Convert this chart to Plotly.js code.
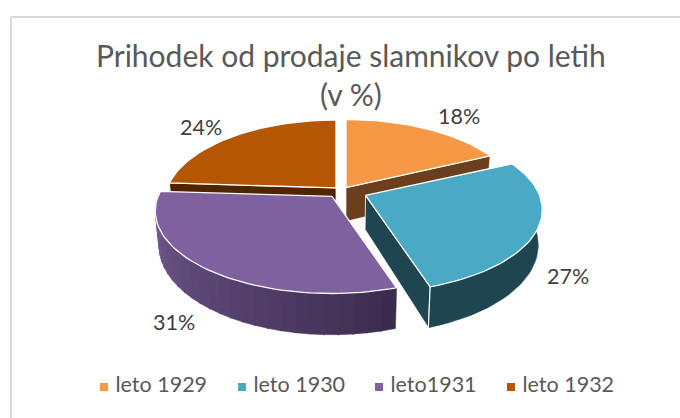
<!DOCTYPE html>
<html><head><meta charset="utf-8">
<script src="https://cdn.plot.ly/plotly-3.0.1.min.js"></script>
<style>html,body{margin:0;padding:0;background:#fff}</style></head>
<body><div id="chart" style="width:680px;height:418px"></div>
<script>
(function(){
const categories = ['leto 1929','leto 1930','leto1931','leto 1932'];
const values = [18,27,31,24];
const colors = ['#F69845','#4AA9C4','#7E619E','#B55604'];
const radialWall = ['#6B3E1D',null,null,'#4F2500'];
const pulls = [0.047,0.15,0.09,0.047];
const widthScale = [0.985,1,1,0.97];
const labelPos = [[458.5,116],[568,276],[173.5,322],[201,127]];
const legendX = [104,242,379,511];

const cx=341.6, cy=190.7, R=174, H=80, K=0.176, T=34, SHR=0.98;
const rad=d=>d*Math.PI/180;
const total=values.reduce((a,b)=>a+b,0);
let acc=0;
const slices=values.map((v,i)=>{const a=acc/total*360;acc+=v;const b=acc/total*360;const m=rad((a+b)/2);
  return {i,a,b,du:pulls[i]*Math.sin(m),dv:-pulls[i]*Math.cos(m)};});
function P(sl,deg,r,low){
  const ru=r*Math.sin(rad(deg))*widthScale[sl.i], rv=-r*Math.cos(rad(deg));
  const s=1/(1-K*rv);
  let X=R*(sl.du+ru*s), Y=cy+H*(sl.dv+rv*s);
  if(low){X*=SHR;Y+=T*s;}
  return [cx+X,Y];
}
function poly(pts,fill,lineColor,lw){
  return {type:'scatter',mode:'lines',x:pts.map(p=>p[0]),y:pts.map(p=>p[1]),fill:'toself',fillcolor:fill,
    line:{color:lineColor||fill,width:lw==null?1:lw},hoverinfo:'skip',showlegend:false};
}
function arc(sl,a,b,low){const n=Math.max(2,Math.ceil(Math.abs(b-a)/2));const o=[];for(let k=0;k<=n;k++)o.push(P(sl,a+(b-a)*k/n,1,low));return o;}
function radialQuad(sl,deg,c){return poly([P(sl,0,0,false),P(sl,deg,1,false),P(sl,deg,1,true),P(sl,0,0,true),P(sl,0,0,false)],c,'#ffffff',0.8);}
function topFace(sl){return poly([P(sl,0,0,false),...arc(sl,sl.a,sl.b,false),P(sl,0,0,false)],colors[sl.i],'#ffffff',1.3);}
function mix(c1,c2,t){return 'rgb('+c1.map((c,i)=>Math.round(c+(c2[i]-c)*t)).join(',')+')';}

const traces=[];
const [o,te,pu,br]=slices;
traces.push(radialQuad(br,br.a,radialWall[3]));
traces.push(radialQuad(o,o.b,radialWall[0]));
traces.push(topFace(br));traces.push(topFace(o));
const pA=[60,43,77],pB=[117,92,150];
const pEnd=272,step=4;
for(let d=pu.a;d<pEnd;d+=step){
  const e=Math.min(d+step+0.5,pEnd);
  const pts=[...arc(pu,d,e,false),...arc(pu,e,d,true)];pts.push(pts[0]);
  const t=Math.pow((d-pu.a)/(pEnd-pu.a),0.9);
  traces.push(poly(pts,mix(pA,pB,t),mix(pA,pB,t),0.5));
}
traces.push(topFace(pu));
traces.push(radialQuad(te,te.b,'#1F4650'));
{const pts=[...arc(te,te.b,78,false),...arc(te,78,te.b,true)];pts.push(pts[0]);traces.push(poly(pts,'#1F4650','#1F4650',0.5));
 traces.push({type:'scatter',mode:'lines',x:[P(te,te.b,1,false)[0],P(te,te.b,1,true)[0]],y:[P(te,te.b,1,false)[1],P(te,te.b,1,true)[1]],line:{color:'#fff',width:1.2},hoverinfo:'skip',showlegend:false});}
traces.push(topFace(te));
categories.forEach((c,i)=>traces.push({type:'scatter',mode:'markers+text',name:c,x:[legendX[i]],y:[387],text:[' '+c],textposition:'middle right',
  textfont:{family:'Lato, sans-serif',size:21.5,color:'#595959'},marker:{symbol:'square',size:8,color:colors[i]},hoverinfo:'skip',showlegend:false,cliponaxis:false}));

const anns=values.map((v,i)=>({x:labelPos[i][0],y:labelPos[i][1],xref:'x',yref:'y',text:v+'%',showarrow:false,xanchor:'center',yanchor:'middle',
  font:{family:'Lato, sans-serif',size:21.5,color:'#404040'}}));

const layout={width:680,height:418,margin:{l:0,r:0,t:0,b:0},paper_bgcolor:'#fff',plot_bgcolor:'#fff',showlegend:false,
  title:{text:'Prihodek od prodaje slamnikov po letih<br>(v %)',font:{family:'Lato, sans-serif',size:30,color:'#595959'},x:0.516,xanchor:'center',y:0.8395,yanchor:'middle'},
  xaxis:{range:[0,680],visible:false,fixedrange:true},
  yaxis:{range:[418,0],visible:false,fixedrange:true},
  annotations:anns,
  shapes:[
   {type:'line',xref:'x',yref:'y',x0:11,x1:11,y0:17,y1:418,line:{color:'#D9D9D9',width:2}},
   {type:'line',xref:'x',yref:'y',x0:11,x1:680,y0:17,y1:17,line:{color:'#D9D9D9',width:2}}
  ]};
Plotly.newPlot('chart',traces,layout,{displayModeBar:false,staticPlot:true});
})();
</script></body></html>
